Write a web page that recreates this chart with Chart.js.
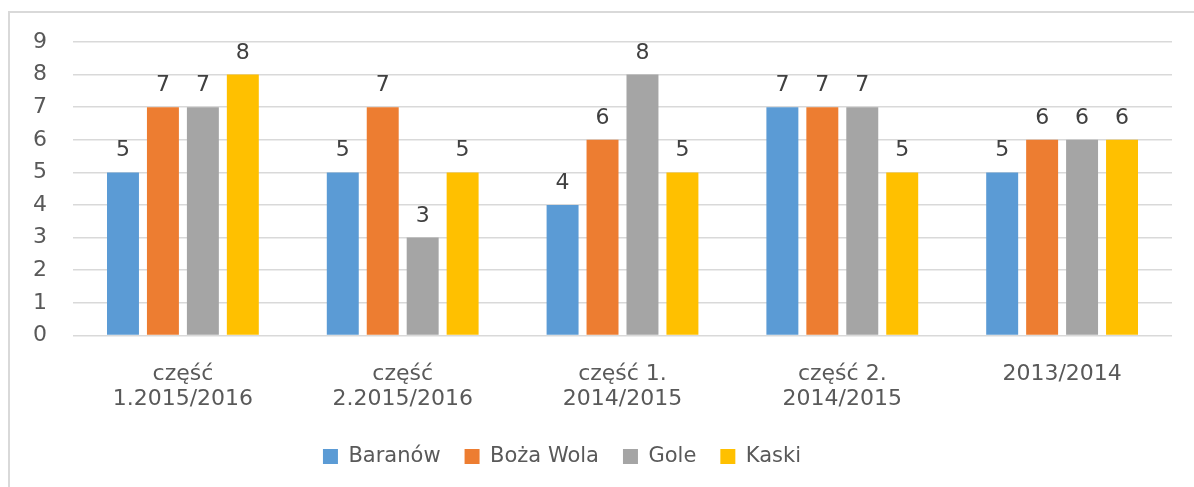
<!DOCTYPE html>
<html>
<head>
<meta charset="utf-8">
<script src="https://cdn.jsdelivr.net/npm/chart.js@4/dist/chart.umd.min.js"></script>
<style>
  html, body { margin: 0; padding: 0; background: #fff; overflow: hidden; }
  #frame { position: absolute; left: 8px; top: 11px; width: 1200px; height: 500px; border: 2px solid #d9d9d9; }
  #wrap { position: absolute; left: 0; top: 0; width: 1194px; height: 487px; }
</style>
</head>
<body>
<div id="frame"></div>
<div id="wrap"><canvas id="chart"></canvas></div>
<script>
const categories = [
  ["część", "1.2015/2016"],
  ["część", "2.2015/2016"],
  ["część 1.", "2014/2015"],
  ["część 2.", "2014/2015"],
  "2013/2014"
];
const seriesNames = ["Baranów", "Boża Wola", "Gole", "Kaski"];
const baranow = [5, 5, 4, 7, 5];
const bozaWola = [7, 7, 6, 7, 6];
const gole = [7, 3, 8, 7, 6];
const kaski = [8, 5, 5, 5, 6];
const yTicks = [0, 1, 2, 3, 4, 5, 6, 7, 8, 9];

const colors = ["#5B9BD5", "#ED7D31", "#A5A5A5", "#FFC000"];
const values = [baranow, bozaWola, gole, kaski];
const FONT = "'DejaVu Sans', sans-serif";

// values above each bar
const barLabels = {
  id: "barLabels",
  afterLayout(chart) {
    // legend sits a bit left of the canvas centre in the original
    if (chart.legend) {
      chart.legend.left -= 24;
      chart.legend.right -= 24;
    }
  },
  afterDatasetsDraw(chart) {
    const ctx = chart.ctx;
    ctx.save();
    ctx.font = "22px " + FONT;
    ctx.fillStyle = "#404040";
    ctx.textAlign = "center";
    ctx.textBaseline = "alphabetic";
    chart.data.datasets.forEach((ds, i) => {
      chart.getDatasetMeta(i).data.forEach((bar, j) => {
        ctx.fillText(String(ds.data[j]), bar.x, bar.y - 16);
      });
    });
    ctx.restore();
  }
};

new Chart(document.getElementById("chart"), {
  type: "bar",
  data: {
    labels: categories,
    datasets: seriesNames.map((name, i) => ({
      label: name,
      data: values[i],
      backgroundColor: colors[i],
      categoryPercentage: 0.727,
      barPercentage: 0.8
    }))
  },
  options: {
    responsive: true,
    maintainAspectRatio: false,
    animation: false,
    layout: { padding: { top: 42, right: 22, bottom: 10, left: 0 } },
    plugins: {
      legend: {
        position: "bottom",
        labels: {
          color: "#595959",
          font: { family: FONT, size: 21 },
          boxWidth: 15,
          boxHeight: 15,
          padding: 24
        }
      },
      tooltip: { enabled: false }
    },
    scales: {
      x: {
        afterFit(scale) { scale.height -= 8; },
        grid: { display: false },
        border: { display: false },
        ticks: {
          color: "#595959",
          font: { family: FONT, size: 22, lineHeight: 1.15 },
          padding: 18,
          maxRotation: 0,
          autoSkip: false
        }
      },
      y: {
        min: 0,
        max: 9,
        afterFit(scale) { scale.width = 73; },
        afterBuildTicks(scale) { scale.ticks = yTicks.map(v => ({ value: v })); },
        grid: { color: "#d9d9d9", lineWidth: 1.5, drawTicks: false },
        border: { display: false },
        ticks: {
          color: "#595959",
          font: { family: FONT, size: 22 },
          padding: 26
        }
      }
    }
  },
  plugins: [barLabels]
});
</script>
</body>
</html>
